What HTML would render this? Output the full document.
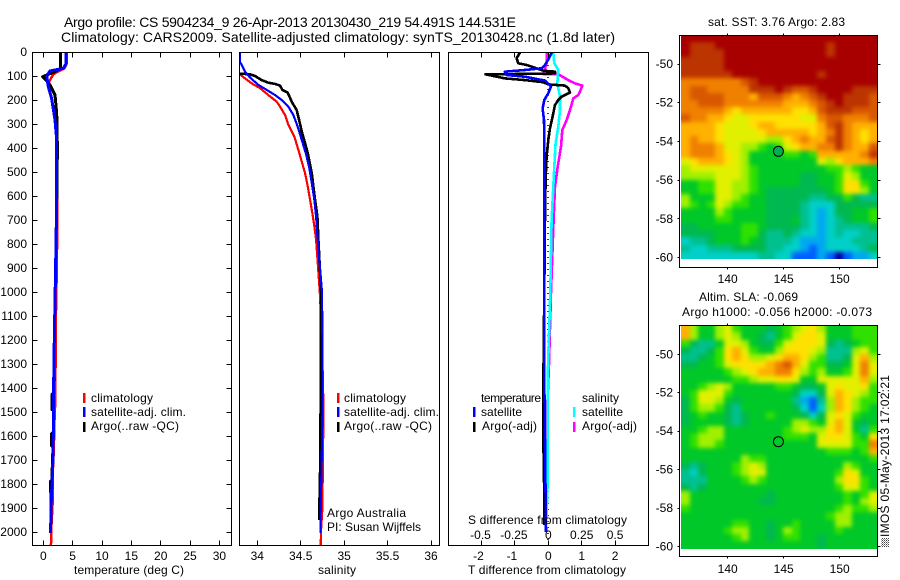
<!DOCTYPE html>
<html lang="en">
<head>
<meta charset="utf-8">
<title>Argo profile chart</title>
<style>
html,body{margin:0;padding:0;background:#fff;}
svg{display:block;font-family:"Liberation Sans",sans-serif;font-size:12px;fill:#000;}
.t14{font-size:14px;}
.axis{fill:none;stroke:#000;stroke-width:1;shape-rendering:crispEdges;}
.curve{fill:none;shape-rendering:crispEdges;stroke-linejoin:round;}
</style>
</head>
<body>
<svg id="chart" xmlns="http://www.w3.org/2000/svg" width="900" height="580" viewBox="0 0 900 580">
  <defs>
    <clipPath id="clip-temp"><rect x="33" y="53" width="198" height="492"/></clipPath>
    <clipPath id="clip-sal"><rect x="239" y="53" width="200" height="492"/></clipPath>
    <clipPath id="clip-diff"><rect x="449" y="53" width="199" height="492"/></clipPath>
    <clipPath id="clip-sst-map"><rect x="681" y="36" width="196" height="223"/></clipPath>
    <clipPath id="clip-sla-map"><rect x="681" y="326" width="196" height="223"/></clipPath>
    <filter id="map-soften" filterUnits="userSpaceOnUse" x="660" y="10" width="240" height="560" color-interpolation-filters="sRGB"><feGaussianBlur stdDeviation="2"/></filter>
    <pattern id="logo-hatch" width="2" height="2" patternUnits="userSpaceOnUse"><rect width="1" height="1" fill="#444"/><rect x="1" y="1" width="1" height="1" fill="#999"/></pattern>
  </defs>

  <text class="t14" x="64" y="27" textLength="452" lengthAdjust="spacing">Argo profile: CS 5904234_9 26-Apr-2013 20130430_219 54.491S 144.531E</text>
  <text class="t14" x="61" y="42" textLength="554" lengthAdjust="spacing">Climatology: CARS2009. Satellite-adjusted climatology: synTS_20130428.nc (1.8d later)</text>

  <g clip-path="url(#clip-sst-map)"><g id="map-sst" filter="url(#map-soften)"></g></g>
  <g clip-path="url(#clip-sla-map)"><g id="map-sla" filter="url(#map-soften)"></g></g>

  <g id="curves-temp" clip-path="url(#clip-temp)"></g>
  <g id="curves-sal" clip-path="url(#clip-sal)"></g>
  <line x1="548" y1="53" x2="548" y2="545" stroke="#000" stroke-width="1.5" stroke-dasharray="1 5"/>
  <g id="curves-diff" clip-path="url(#clip-diff)"></g>

  <rect class="axis" x="32.5" y="52.5" width="199" height="493"/>
  <rect class="axis" x="239.5" y="52.5" width="200" height="493"/>
  <rect class="axis" x="448.5" y="52.5" width="200" height="493"/>
  <rect class="axis" x="679.5" y="35.5" width="198" height="232"/>
  <rect class="axis" x="679.5" y="325.5" width="198" height="231"/>

  <g id="ticks"></g>

  <text x="74" y="574" textLength="110" lengthAdjust="spacing">temperature (deg C)</text>
  <text x="318" y="574" textLength="38" lengthAdjust="spacing">salinity</text>
  <text x="468" y="574" textLength="158" lengthAdjust="spacing">T difference from climatology</text>
  <text x="468" y="524" textLength="159" lengthAdjust="spacing">S difference from climatology</text>

  <g>
    <rect x="83" y="393" width="2.5" height="10" fill="#f00"/>
    <rect x="83" y="407" width="2.5" height="10" fill="#00f"/>
    <rect x="83" y="422" width="2.5" height="10" fill="#000"/>
    <text x="91" y="402" textLength="62" lengthAdjust="spacing">climatology</text>
    <text x="91" y="416" textLength="95" lengthAdjust="spacing">satellite-adj. clim.</text>
    <text x="91" y="430" textLength="88" lengthAdjust="spacing">Argo(..raw -QC)</text>
  </g>
  <g>
    <rect x="337" y="393" width="2.5" height="10" fill="#f00"/>
    <rect x="337" y="407" width="2.5" height="10" fill="#00f"/>
    <rect x="337" y="422" width="2.5" height="10" fill="#000"/>
    <text x="344" y="402" textLength="62" lengthAdjust="spacing">climatology</text>
    <text x="344" y="416" textLength="95" lengthAdjust="spacing">satellite-adj. clim.</text>
    <text x="344" y="430" textLength="88" lengthAdjust="spacing">Argo(..raw -QC)</text>
    <text x="327" y="517" textLength="79" lengthAdjust="spacing">Argo Australia</text>
    <text x="327" y="531" textLength="94" lengthAdjust="spacing">PI: Susan Wijffels</text>
  </g>
  <g>
    <text x="481" y="402" textLength="60" lengthAdjust="spacing">temperature</text>
    <rect x="473" y="407" width="2.5" height="10" fill="#00f"/>
    <rect x="473" y="422" width="2.5" height="10" fill="#000"/>
    <text x="481" y="416" textLength="41" lengthAdjust="spacing">satellite</text>
    <text x="482" y="430" textLength="55" lengthAdjust="spacing">Argo(-adj)</text>
    <text x="582" y="402" textLength="37" lengthAdjust="spacing">salinity</text>
    <rect x="573" y="407" width="2.5" height="10" fill="#0ff"/>
    <rect x="573" y="422" width="2.5" height="10" fill="#f0f"/>
    <text x="582" y="416" textLength="41" lengthAdjust="spacing">satellite</text>
    <text x="582" y="430" textLength="55" lengthAdjust="spacing">Argo(-adj)</text>
  </g>

  <text x="708" y="26" textLength="137" lengthAdjust="spacing">sat. SST: 3.76 Argo: 2.83</text>
  <text x="699" y="301" textLength="99" lengthAdjust="spacing">Altim. SLA: -0.069</text>
  <text x="682" y="316" textLength="190" lengthAdjust="spacing">Argo h1000: -0.056 h2000: -0.073</text>

  <circle cx="778.4" cy="151.3" r="5" fill="#00b050" stroke="#000" stroke-width="1"/>
  <circle cx="778.4" cy="441.7" r="5" fill="none" stroke="#000" stroke-width="1"/>

  <rect x="881" y="538" width="8" height="9" fill="url(#logo-hatch)"/>
  <text transform="translate(889 537) rotate(-90)" textLength="162" lengthAdjust="spacing">IMOS 05-May-2013 17:02:21</text>
</svg>

<script>
// ---------- profile data (depth in dbar) ----------
const climTempDepth = [0,50,68,80,93,115,137,179,260,400,500,680,900,1100,1300,1375,1490,1560,1650,1750,1880,1970,2040,2054];
const climTemp = [3.95,3.95,3.6,2.6,1.7,1.2,0.75,1.3,2.0,2.35,2.42,2.4,2.3,2.15,2.1,2.03,2.0,1.85,1.8,1.62,1.58,1.4,1.38,1.26];
const satTempDepth = [0,50,68,79,100,145,193,283,366,616,900,1200,1370,1500,1700,1900,2004];
const satTemp = [3.87,3.87,3.4,1.14,0.58,0.85,1.42,2.0,2.28,2.28,2.1,1.88,1.77,1.77,1.63,1.31,1.25];
const argoTempDepth = [0,68,82,103,121,137,179,255,400,600,900,1200,1420,1425,1490,1495,1585,1590,1640,1645,1785,1790,1830,1835,1950];
const argoTemp = [2.9,2.9,2.0,-0.1,0.58,1.14,2.0,2.28,2.4,2.3,2.1,1.88,1.75,1.5,1.5,1.75,1.7,1.4,1.4,1.65,1.45,1.2,1.2,1.35,1.28];

const climSalDepth = [93,110,131,151,179,207,228,262,304,353,408,457,506,561,617,672,728,783,1000,1200,1450,1560,1700,1900,1990,2054];
const climSal = [33.80,33.858,33.935,34.031,34.127,34.223,34.262,34.319,34.358,34.427,34.473,34.512,34.55,34.581,34.608,34.635,34.658,34.677,34.72,34.745,34.76,34.76,34.755,34.75,34.735,34.73];
const satSalDepth = [0,40,54,82,106,137,158,179,200,228,262,311,367,422,478,547,617,686,783,1000,1300,1500,1700,1900,2004];
const satSal = [33.80,33.80,33.82,33.858,33.915,34.012,34.108,34.204,34.281,34.358,34.415,34.465,34.512,34.558,34.596,34.627,34.658,34.677,34.696,34.745,34.752,34.75,34.742,34.73,34.727];
const argoSalDepth = [0,85,93,100,117,128,133,140,158,169,207,242,283,332,381,422,471,506,561,617,686,783,1000,1400,1700,1890,1950];
const argoSal = [33.6,33.6,33.915,33.973,34.05,34.127,34.204,34.262,34.288,34.35,34.396,34.454,34.481,34.512,34.55,34.581,34.608,34.627,34.646,34.665,34.692,34.704,34.735,34.73,34.725,34.715,34.715];

const satTDiffDepth = [3,26,54,68,75,82,96,103,119,144,172,200,235,283,367,506,700,1370,2000];
const satTDiff = [0.1,0.02,-0.1,-0.2,-0.7,-1.3,-1.25,-0.7,-0.1,0.08,0,-0.12,-0.17,-0.13,-0.12,-0.12,-0.12,-0.12,-0.07];
const argoTDiffDepth = [3,26,47,54,68,78,82,89,90,92,93,110,117,126,135,140,151,169,186,200,221,269,318,367,436,533,686,1000,1400,1608,1854,1970];
const argoTDiff = [-0.85,-0.95,-0.9,-0.65,-0.35,-0.15,0.2,0.2,-0.15,-1.1,-1.88,-1.3,-0.7,-0.15,0,0.5,0.6,0.65,0.4,0.3,0.2,0.13,0.05,0,-0.05,-0.08,-0.1,-0.12,-0.15,-0.15,-0.12,-0.12];
const satSDiffDepth = [3,47,75,131,186,242,311,381,478,561,700,1000,1370,1800,2000];
const satSDiff = [0.0375,0.045,0.075,0.0675,0.0875,0.0875,0.075,0.055,0.045,0.0375,0.025,0.015,-0.005,-0.005,-0.0175];
const argoSDiffDepth = [3,47,82,92,93,117,131,140,165,179,193,242,283,325,394,478,561,700,1000,1300,1650];
const argoSDiff = [-0.0125,-0.0125,-0.03,-0.0375,0.075,0.15,0.2,0.255,0.2375,0.225,0.1875,0.1625,0.1375,0.105,0.095,0.07,0.05,0.04,0.02,0.005,-0.02];

// ---------- tick values ----------
const depthTicks = [0,100,200,300,400,500,600,700,800,900,1000,1100,1200,1300,1400,1500,1600,1700,1800,1900,2000];
const tempTicks = [0,5,10,15,20,25,30];
const salTicks = [34,34.5,35,35.5,36];
const tDiffTicks = [-2,-1,0,1,2];
const sDiffLabels = [-0.5,-0.25,0,0.25,0.5];
const lonTicks = [140,145,150];
const latTicks = [-50,-52,-54,-56,-58,-60];

// ---------- map grids: colour-level per cell, north to south, west to east ----------
const sstGrid = [
[15,15,15,15,15,15,15,15,15,15,15,15,15,15,15,15,15,15,15,15,15,15,15],
[15,14,14,14,15,15,15,15,15,15,15,15,15,15,15,15,15,14,15,15,15,15,15],
[15,14,14,14,14,15,15,15,15,15,15,15,15,15,15,15,15,14,15,15,15,15,15],
[14,14,14,14,14,15,15,15,15,15,15,15,15,15,15,15,15,15,15,15,15,15,15],
[14,14,14,14,14,15,15,15,15,15,15,15,15,15,15,15,15,15,15,15,15,15,15],
[14,14,14,14,14,14,15,15,15,15,15,15,15,15,15,15,14,15,15,15,15,15,15],
[12,12,12,12,12,12,12,13,14,15,15,15,15,15,15,15,15,15,15,15,15,15,15],
[12,13,13,12,12,12,12,12,14,14,14,15,14,13,13,14,15,15,15,15,14,14,14],
[12,13,13,13,13,12,12,12,11,13,13,13,12,11,12,13,14,15,15,14,14,14,13],
[12,12,13,13,13,12,12,12,12,12,12,12,11,11,11,12,13,14,15,14,14,14,13],
[12,12,12,12,12,11,10,11,11,11,11,11,11,10,10,11,13,14,14,14,13,13,13],
[13,12,12,11,11,10,9,9,10,10,10,10,10,10,9,9,12,13,13,12,12,12,13],
[11,11,11,11,10,9,9,9,10,11,11,10,10,10,10,10,11,13,14,12,11,11,11],
[11,11,11,11,10,9,9,9,9,10,11,11,11,11,11,10,11,12,14,12,11,10,11],
[11,12,11,11,10,9,9,9,9,9,8,8,10,11,12,11,11,13,14,12,11,10,11],
[11,12,12,12,11,9,9,8,8,7,6,7,9,10,11,11,12,12,14,12,11,11,13],
[11,12,12,12,11,10,9,8,6,6,6,6,7,7,6,7,11,11,11,11,11,12,14],
[9,10,11,11,11,10,9,8,6,6,6,6,6,6,6,6,9,8,10,11,11,11,12],
[8,9,9,9,9,9,9,8,7,6,6,6,6,6,6,6,6,7,7,8,7,6,6],
[8,8,8,8,9,9,9,8,7,6,6,6,6,6,5,5,6,6,7,9,8,6,6],
[6,6,7,7,9,9,8,8,7,6,6,6,6,6,5,5,6,6,7,10,10,7,6],
[6,6,7,7,9,9,8,8,7,6,5,5,5,5,5,5,5,6,7,10,10,8,6],
[8,6,6,6,9,9,8,7,6,6,5,5,5,5,5,4,4,5,5,7,5,4,4],
[8,7,6,7,9,8,7,7,6,6,5,5,5,5,4,3,3,3,5,5,5,5,5],
[6,6,6,6,8,7,6,6,6,6,5,5,5,5,4,3,2,3,5,5,6,6,7],
[6,6,6,6,7,7,6,6,6,6,5,5,5,6,4,3,2,3,4,5,6,6,7],
[5,5,6,6,6,6,6,7,7,6,5,5,5,5,4,3,2,3,4,4,4,4,5],
[5,5,5,5,6,6,6,7,7,5,4,4,5,4,3,3,2,3,4,3,3,4,4],
[3,4,4,5,6,6,6,7,6,5,4,4,4,3,2,2,2,3,3,3,4,4,4],
[4,3,3,4,4,4,5,5,5,5,4,4,3,3,2,1,2,3,3,3,3,4,5],
[3,3,3,3,3,3,3,3,3,4,4,3,3,1,1,1,2,1,0,1,2,2,3]
];
const slaGrid = [
[11,8,6,6,8,9,7,6,6,6,5,6,7,8,9,10,8,6,6,6,7,7,7],
[11,8,6,6,8,9,8,6,6,5,4,6,7,9,10,10,9,6,6,6,7,7,7],
[7,5,4,4,6,9,9,8,6,5,5,7,9,10,10,10,9,5,4,5,6,7,7],
[5,4,4,5,7,10,11,9,7,6,6,8,10,10,10,9,8,4,4,4,8,9,7],
[4,4,5,6,7,10,11,10,8,8,9,10,11,11,10,8,7,4,4,5,9,11,8],
[5,5,6,6,7,9,10,10,10,10,11,12,13,11,9,7,7,5,5,6,9,12,9],
[6,6,6,6,6,7,8,9,10,11,11,12,12,10,8,7,8,6,6,7,9,12,9],
[6,6,6,6,6,6,7,7,8,9,9,10,10,9,6,6,9,9,9,9,9,11,8],
[6,6,7,8,9,8,6,6,6,6,6,7,7,6,5,5,6,9,10,9,9,10,7],
[6,7,9,9,9,7,6,6,6,6,6,6,6,5,3,3,5,9,11,10,9,8,7],
[5,7,9,9,8,6,5,6,6,6,6,6,6,4,2,1,4,8,11,10,8,7,7],
[5,7,8,8,7,5,4,6,6,6,6,6,6,5,3,1,3,8,11,10,8,7,6],
[5,6,7,6,6,5,4,5,6,6,7,6,6,6,5,3,5,9,10,9,7,6,6],
[5,6,6,6,6,5,4,5,6,6,6,6,6,8,8,7,6,9,11,9,6,5,6],
[6,6,7,8,8,6,6,6,6,6,6,6,7,8,9,8,8,10,11,9,6,4,7],
[6,7,8,8,8,6,6,6,6,6,6,6,7,7,7,6,9,10,10,9,7,6,10],
[6,7,8,8,7,6,6,6,6,6,6,6,6,6,6,6,9,9,9,9,7,7,12],
[6,6,6,6,6,6,6,6,6,6,6,6,6,6,6,6,6,7,7,7,6,7,11],
[6,6,6,6,6,6,6,8,7,7,6,6,6,6,6,6,6,6,6,6,6,6,7],
[5,4,5,6,6,6,7,8,9,8,6,6,6,6,6,6,6,6,6,8,7,6,6],
[4,3,5,6,6,6,7,8,9,9,6,6,6,6,6,6,6,6,7,10,9,6,6],
[4,4,4,6,6,6,6,7,8,7,6,6,6,6,6,6,6,6,8,10,10,7,6],
[5,4,5,6,6,6,6,6,6,6,6,6,6,6,6,6,6,6,7,9,9,7,6],
[8,6,6,6,6,6,6,6,6,6,5,6,6,6,6,6,6,6,6,7,6,7,9],
[8,6,6,6,6,6,6,6,6,5,5,6,6,6,6,6,6,6,6,7,6,8,9],
[7,6,6,6,6,6,6,6,6,6,6,6,6,6,6,6,6,6,7,8,7,7,8],
[6,6,6,6,6,6,6,6,6,6,6,6,6,6,6,6,6,7,8,8,6,6,6],
[6,6,6,6,6,6,7,7,6,6,5,6,6,7,6,6,6,6,8,8,6,6,6],
[6,6,6,6,6,7,8,8,6,6,5,6,8,7,6,6,6,6,7,6,6,6,6],
[6,6,6,6,6,6,7,8,6,6,5,6,7,7,6,6,5,6,6,6,6,6,6],
[6,6,6,6,6,6,6,6,6,6,6,6,6,6,6,6,5,6,6,6,6,6,6]
];
const levelColors = ["#0000a0","#0060ff","#00a8f0","#00d0c8","#00c090","#00b850","#00c828","#30e000","#a0f000","#e0f000","#ffe000","#ffb000","#f08000","#d85800","#bc3400","#a80000"];

// ---------- axis functions ----------
const svgNS = "http://www.w3.org/2000/svg";
const yDepth = d => 52 + d * 0.24;
const xTemp = t => 43.3 + t * 5.87;
const xSal = s => 257.3 + (s - 34) * 86.85;
const xTDiff = t => 548.3 + t * 33.4;
const xSDiff = s => 548.3 + s * 133.6;
const xLon = lon => 727.7 + (lon - 140) * 11.2;
const ySstLat = lat => 64 + (-50 - lat) * 19.35;
const ySlaLat = lat => 354.3 + (-50 - lat) * 19.22;

function drawCurve(parent, xScale, depths, values, color, width) {
  const line = document.createElementNS(svgNS, "polyline");
  line.setAttribute("class", "curve");
  line.setAttribute("stroke", color);
  line.setAttribute("stroke-width", width);
  line.setAttribute("points", values.map((v, i) => xScale(v).toFixed(1) + "," + yDepth(depths[i]).toFixed(1)).join(" "));
  
  
  parent.appendChild(line);
}

const tempG = document.getElementById("curves-temp");
drawCurve(tempG, xTemp, climTempDepth, climTemp, "#f00", 2.5);
drawCurve(tempG, xTemp, argoTempDepth, argoTemp, "#000", 3);
drawCurve(tempG, xTemp, satTempDepth, satTemp, "#00f", 3);

const salG = document.getElementById("curves-sal");
drawCurve(salG, xSal, climSalDepth, climSal, "#f00", 2.2);
drawCurve(salG, xSal, argoSalDepth, argoSal, "#000", 2.6);
drawCurve(salG, xSal, satSalDepth, satSal, "#00f", 2.2);

const diffG = document.getElementById("curves-diff");
drawCurve(diffG, xSDiff, argoSDiffDepth, argoSDiff, "#f0f", 2.6);
drawCurve(diffG, xSDiff, satSDiffDepth, satSDiff, "#0ff", 2.6);
drawCurve(diffG, xTDiff, argoTDiffDepth, argoTDiff, "#000", 2.6);
drawCurve(diffG, xTDiff, satTDiffDepth, satTDiff, "#00f", 2.6);

// ---------- heatmaps ----------
const lonStart = 135.83;
const lonEnd = 153.35;
function drawMap(id, grid, yLat, latTop, latBottom) {
  const g = document.getElementById(id);
  const rows = grid.length;
  grid.forEach((row, j) => {
    const cols = row.length;
    row.forEach((level, i) => {
      let x0 = Math.round(xLon(lonStart + (lonEnd - lonStart) * i / cols));
      let x1 = Math.round(xLon(lonStart + (lonEnd - lonStart) * (i + 1) / cols));
      let y0 = Math.round(yLat(latTop + (latBottom - latTop) * j / rows));
      let y1 = Math.round(yLat(latTop + (latBottom - latTop) * (j + 1) / rows));
      if (i === 0) x0 -= 8;
      if (i === cols - 1) x1 += 8;
      if (j === 0) y0 -= 8;
      if (j === rows - 1) y1 += 8;
      const cell = document.createElementNS(svgNS, "rect");
      cell.setAttribute("x", x0);
      cell.setAttribute("y", y0);
      cell.setAttribute("width", x1 - x0);
      cell.setAttribute("height", y1 - y0);
      cell.setAttribute("fill", levelColors[level]);
      cell.setAttribute("shape-rendering", "crispEdges");
      
      
      g.appendChild(cell);
    });
  });
}
drawMap("map-sst", sstGrid, ySstLat, -48.5, -60.08);
drawMap("map-sla", slaGrid, ySlaLat, -48.49, -60.1);

// ---------- ticks and tick labels ----------
const ticksG = document.getElementById("ticks");
function tick(x1, y1, x2, y2) {
  const l = document.createElementNS(svgNS, "line");
  l.setAttribute("x1", Math.floor(x1) + 0.5);
  l.setAttribute("x2", Math.floor(x2) + 0.5);
  l.setAttribute("y1", Math.floor(y1) + 0.5);
  l.setAttribute("y2", Math.floor(y2) + 0.5);
  l.setAttribute("stroke", "#000");
  l.setAttribute("shape-rendering", "crispEdges");
  
  
  ticksG.appendChild(l);
}
function tickLabel(x, y, text, anchor) {
  const t = document.createElementNS(svgNS, "text");
  t.setAttribute("x", x);
  t.setAttribute("y", y);
  t.setAttribute("text-anchor", anchor);
  t.textContent = text;
  
  
  ticksG.appendChild(t);
}
depthTicks.forEach(d => {
  const y = yDepth(d);
  tick(32, y, 37, y);
  tick(231, y, 226, y);
  tickLabel(27, y + 4, String(d), "end");
});
tempTicks.forEach(v => {
  const x = xTemp(v);
  tick(x, 52, x, 57);
  tick(x, 545, x, 540);
  tickLabel(x, 560, String(v), "middle");
});
salTicks.forEach(v => {
  const x = xSal(v);
  tick(x, 52, x, 57);
  tick(x, 545, x, 540);
  tickLabel(x, 560, String(v), "middle");
});
tDiffTicks.forEach(v => {
  const x = xTDiff(v);
  tick(x, 52, x, 57);
  tick(x, 545, x, 540);
  tickLabel(x - (v < 0 ? 3 : 0), 560, String(v), "middle");
});
sDiffLabels.forEach(v => {
  tickLabel(xSDiff(v) - (v < 0 ? 1 : 0), 539, String(v), "middle");
});
lonTicks.forEach(v => {
  const x = xLon(v);
  tick(x, 33, x, 35);
  tick(x, 267, x, 269);
  tick(x, 323, x, 325);
  tick(x, 556, x, 558);
  tickLabel(x, 283, String(v), "middle");
  tickLabel(x, 573, String(v), "middle");
});
latTicks.forEach(v => {
  const y1 = ySstLat(v);
  const y2 = ySlaLat(v);
  tick(677, y1, 679, y1);
  tick(877, y1, 880, y1);
  tick(677, y2, 679, y2);
  tick(877, y2, 880, y2);
  tickLabel(673, y1 + 4, String(v), "end");
  tickLabel(673, y2 + 4, String(v), "end");
});
</script>
</body>
</html>
